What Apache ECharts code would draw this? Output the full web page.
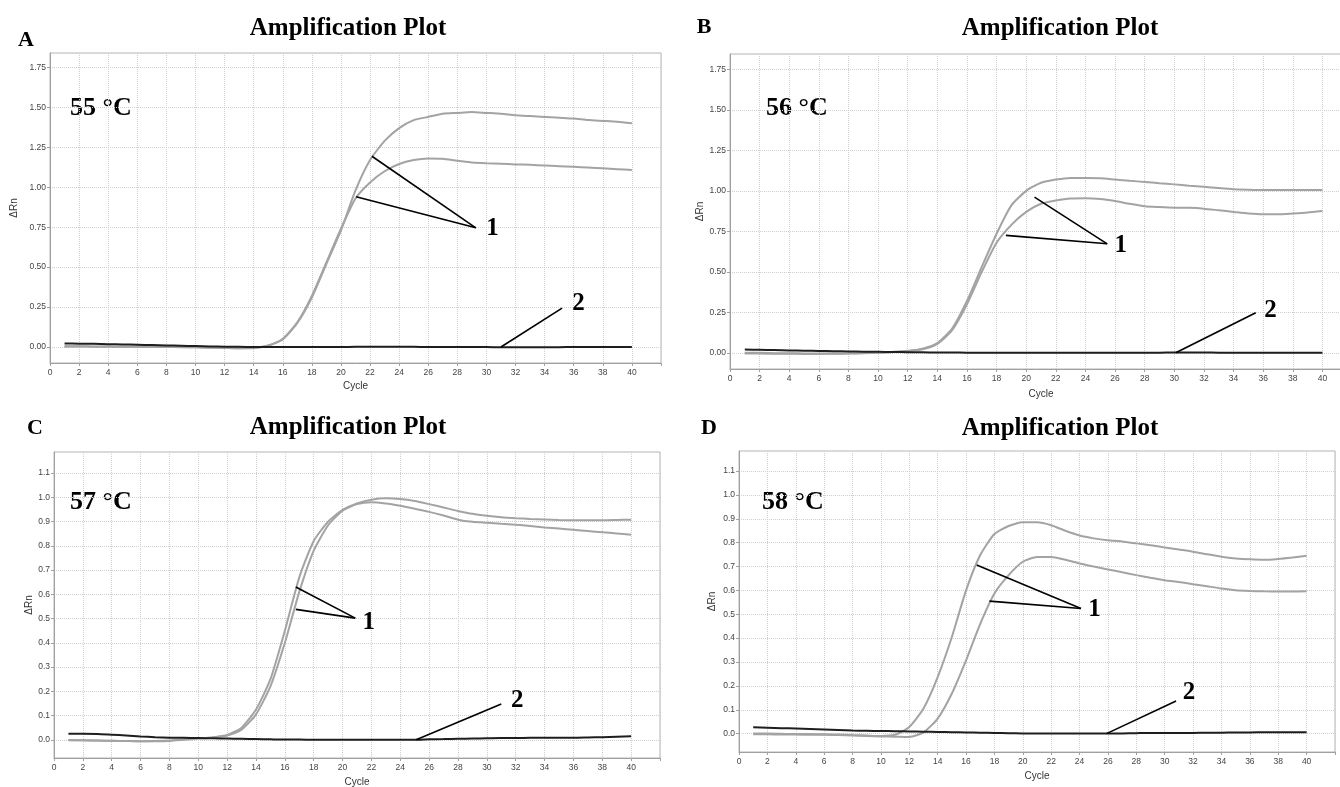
<!DOCTYPE html>
<html>
<head>
<meta charset="utf-8">
<script src="https://cdn.jsdelivr.net/npm/echarts@6/dist/echarts.min.js"></script>
<style>
  html, body { margin: 0; padding: 0; background: #fff; }
  #chart { width: 1340px; height: 787px; }
</style>
</head>
<body>
<div id="chart"></div>
<script>
// PCR cycles
const cycles = [1,2,3,4,5,6,7,8,9,10,11,12,13,14,15,16,17,18,19,20,21,22,23,24,25,26,27,28,29,30,31,32,33,34,35,36,37,38,39,40];

// 55 °C : two template reactions (gray) and the no-template control (black)
const ampA1 = [0.005,0.005,0.004,0.003,0.002,0.002,0.001,0.0,0.0,-0.002,-0.003,-0.005,-0.007,-0.005,0.008,0.048,0.15,0.31,0.52,0.73,0.98,1.17,1.29,1.37,1.42,1.44,1.46,1.465,1.47,1.465,1.46,1.45,1.445,1.44,1.435,1.43,1.42,1.415,1.41,1.40];
const ampA2 = [0.003,0.003,0.002,0.002,0.001,0.001,0.0,0.0,-0.001,-0.002,-0.004,-0.006,-0.008,-0.007,0.01,0.052,0.155,0.32,0.53,0.74,0.93,1.03,1.10,1.145,1.17,1.18,1.178,1.165,1.155,1.15,1.147,1.143,1.14,1.136,1.132,1.128,1.123,1.118,1.113,1.108];
const ntcA  = [0.022,0.021,0.02,0.018,0.016,0.014,0.012,0.01,0.008,0.006,0.004,0.002,0.001,0.0,0.0,0.0,0.0,0.0,0.0,0.0,0.001,0.001,0.001,0.001,0.001,0.0,0.0,0.0,0.0,0.0,-0.002,-0.002,-0.002,-0.001,-0.001,0.0,0.0,0.0,0.0,0.0];

// 56 °C
const ampB1 = [-0.005,-0.005,-0.006,-0.006,-0.007,-0.007,-0.006,-0.005,-0.003,0.0,0.004,0.01,0.025,0.06,0.15,0.32,0.53,0.735,0.91,1.0,1.05,1.07,1.08,1.08,1.078,1.07,1.062,1.055,1.047,1.04,1.032,1.025,1.017,1.01,1.007,1.005,1.005,1.005,1.005,1.005];
const ampB2 = [0.0,0.0,-0.002,-0.003,-0.004,-0.005,-0.004,-0.003,-0.001,0.002,0.006,0.012,0.022,0.055,0.14,0.30,0.50,0.68,0.79,0.87,0.92,0.94,0.953,0.955,0.95,0.937,0.92,0.905,0.9,0.896,0.895,0.89,0.88,0.87,0.86,0.855,0.855,0.86,0.866,0.875];
const ntcB  = [0.02,0.019,0.017,0.015,0.013,0.011,0.01,0.008,0.007,0.006,0.005,0.004,0.003,0.002,0.002,0.001,0.001,0.0,0.0,0.0,0.0,0.0,0.0,0.0,0.0,0.0,0.0,0.001,0.001,0.002,0.002,0.002,0.001,0.001,0.0,0.0,0.0,0.0,0.0,0.0];

// 57 °C
const ampC1 = [-0.002,-0.002,-0.003,-0.004,-0.005,-0.006,-0.006,-0.005,0.0,0.005,0.01,0.02,0.05,0.125,0.25,0.45,0.67,0.82,0.9,0.948,0.975,0.99,0.996,0.993,0.985,0.972,0.958,0.944,0.932,0.924,0.918,0.914,0.911,0.909,0.907,0.906,0.906,0.906,0.907,0.908];
const ampC2 = [-0.001,-0.002,-0.003,-0.004,-0.005,-0.006,-0.005,-0.003,0.002,0.006,0.01,0.018,0.042,0.105,0.22,0.40,0.61,0.78,0.885,0.945,0.972,0.98,0.975,0.965,0.953,0.94,0.925,0.908,0.899,0.895,0.891,0.887,0.882,0.876,0.871,0.866,0.861,0.856,0.851,0.846];
const ntcC  = [0.025,0.025,0.024,0.021,0.018,0.014,0.011,0.009,0.008,0.007,0.006,0.005,0.004,0.003,0.002,0.001,0.001,0.0,0.0,0.0,0.0,0.0,0.0,0.0,0.0,0.002,0.003,0.004,0.005,0.006,0.007,0.007,0.008,0.008,0.009,0.009,0.01,0.011,0.013,0.015];

// 58 °C
const ampD1 = [0.0,0.0,-0.001,-0.002,-0.002,-0.003,-0.004,-0.006,-0.008,-0.01,-0.005,0.028,0.105,0.237,0.405,0.6,0.748,0.836,0.87,0.885,0.885,0.873,0.85,0.83,0.818,0.81,0.805,0.797,0.789,0.78,0.771,0.762,0.751,0.741,0.734,0.73,0.728,0.732,0.738,0.745];
const ampD2 = [-0.003,-0.003,-0.004,-0.004,-0.005,-0.005,-0.006,-0.008,-0.01,-0.012,-0.013,-0.014,0.005,0.063,0.168,0.307,0.46,0.587,0.664,0.72,0.74,0.74,0.728,0.713,0.70,0.688,0.676,0.664,0.653,0.643,0.635,0.626,0.617,0.608,0.601,0.598,0.596,0.595,0.595,0.596];
const ntcD  = [0.027,0.025,0.023,0.021,0.019,0.017,0.015,0.013,0.012,0.011,0.01,0.009,0.008,0.007,0.006,0.005,0.004,0.003,0.002,0.001,0.0,0.0,0.0,0.0,0.0,0.0,0.001,0.002,0.003,0.003,0.003,0.003,0.004,0.004,0.005,0.005,0.006,0.006,0.006,0.006];

// Tick values
const yTicksHigh = [0, 0.25, 0.5, 0.75, 1.0, 1.25, 1.5, 1.75];
const yTicksLow  = [0, 0.1, 0.2, 0.3, 0.4, 0.5, 0.6, 0.7, 0.8, 0.9, 1.0, 1.1];

// Panel texts
const panelLetters = ['A', 'B', 'C', 'D'];
const panelTemps = ['55 °C', '56 °C', '57 °C', '58 °C'];
const plotTitle = 'Amplification Plot';

// Pointer annotations: [start point, end point] in (cycle, ΔRn)
const pointersA = { one: [[[22.13, 1.194], [29.27, 0.746]], [[21.04, 0.94], [29.27, 0.746]]], two: [[31.0, 0.0], [35.2, 0.243]], oneAt: [30.42, 0.742], twoAt: [36.33, 0.273] };
const pointersB = { one: [[[20.56, 0.961], [25.47, 0.673]], [[18.63, 0.725], [25.47, 0.673]]], two: [[30.1, 0.0], [35.5, 0.247]], oneAt: [26.39, 0.661], twoAt: [36.5, 0.261] };
const pointersC = { one: [[[16.76, 0.63], [20.88, 0.502]], [[16.76, 0.538], [20.88, 0.502]]], two: [[25.1, 0.0], [31.0, 0.148]], oneAt: [21.82, 0.484], twoAt: [32.1, 0.162] };
const pointersD = { one: [[[16.75, 0.706], [24.1, 0.524]], [[17.65, 0.555], [24.1, 0.524]]], two: [[25.9, 0.0], [30.8, 0.137]], oneAt: [25.06, 0.52], twoAt: [31.71, 0.174] };

const panels = [
  { amp: [ampA1, ampA2], ntc: ntcA, ticks: yTicksHigh, dec: 2, min: -0.1, max: 1.84, ptr: pointersA,
    grid: { left: 50, top: 53, width: 611, height: 310 }, nameGap: 31, xNameGap: 18 },
  { amp: [ampB1, ampB2], ntc: ntcB, ticks: yTicksHigh, dec: 2, min: -0.1, max: 1.845, ptr: pointersB,
    grid: { left: 730, top: 54, width: 622, height: 315 }, nameGap: 24, xNameGap: 20 },
  { amp: [ampC1, ampC2], ntc: ntcC, ticks: yTicksLow, dec: 1, min: -0.075, max: 1.187, ptr: pointersC,
    grid: { left: 54, top: 452, width: 606, height: 306 }, nameGap: 18, xNameGap: 19 },
  { amp: [ampD1, ampD2], ntc: ntcD, ticks: yTicksLow, dec: 1, min: -0.077, max: 1.184, ptr: pointersD,
    grid: { left: 739, top: 451, width: 596, height: 301 }, nameGap: 22, xNameGap: 19 }
];

const serif = '"Liberation Serif", "DejaVu Serif", serif';
const sans = '"Liberation Sans", Arial, sans-serif';

const grids = [], xAxes = [], yAxes = [], series = [];

panels.forEach((p, i) => {
  grids.push(Object.assign({ show: true, borderColor: '#b4b4b4', borderWidth: 1, backgroundColor: '#fff',
    outerBoundsMode: 'none', containLabel: false }, p.grid));

  xAxes.push({
    gridIndex: i, type: 'value', min: 0, max: 42, interval: 2,
    name: 'Cycle', nameLocation: 'middle', nameGap: p.xNameGap,
    nameTextStyle: { fontFamily: sans, fontSize: 10, color: '#333' },
    axisLine: { show: true, onZero: false, lineStyle: { color: '#a0a0a0' } },
    axisTick: { show: true, length: 3, lineStyle: { color: '#a0a0a0' } },
    axisLabel: { fontFamily: sans, fontSize: 8.5, color: '#444', margin: 5,
      formatter: v => (v > 40 ? '' : String(v)) },
    splitLine: { show: true, lineStyle: { color: '#cfcfcf', type: 'dotted', width: 1 } }
  });

  yAxes.push({
    gridIndex: i, type: 'value', min: p.min, max: p.max,
    name: 'ΔRn', nameLocation: 'middle', nameGap: p.nameGap,
    nameTextStyle: { fontFamily: sans, fontSize: 10, color: '#333' },
    axisLine: { show: true, lineStyle: { color: '#a0a0a0' } },
    axisTick: { show: true, length: 3, customValues: p.ticks, lineStyle: { color: '#a0a0a0' } },
    axisLabel: { fontFamily: sans, fontSize: 8.5, color: '#444', margin: 4, customValues: p.ticks,
      formatter: v => v.toFixed(p.dec) },
    splitLine: { show: true, lineStyle: { color: '#cfcfcf', type: 'dotted', width: 1 } }
  });

  const numLabel = (txt, at) => ({
    coord: at, symbol: 'rect', symbolSize: 1, itemStyle: { color: 'rgba(0,0,0,0)' },
    label: { show: true, position: 'inside', formatter: txt,
      fontFamily: serif, fontWeight: 'bold', fontSize: 25, color: '#000' }
  });
  const segment = pts => [{ coord: pts[0] }, { coord: pts[1] }];

  p.amp.forEach((vals, k) => {
    series.push({
      type: 'line', xAxisIndex: i, yAxisIndex: i, showSymbol: false, smooth: 0.2,
      data: cycles.map((c, j) => [c, vals[j]]),
      lineStyle: { color: '#a3a3a3', width: 2 }, silent: true,
      markLine: k === 0 ? {
        silent: true, symbol: 'none', label: { show: false },
        lineStyle: { color: '#000', width: 1.6, type: 'solid' },
        data: p.ptr.one.map(segment)
      } : undefined,
      markPoint: k === 0 ? { silent: true, data: [numLabel('1', p.ptr.oneAt)] } : undefined
    });
  });

  series.push({
    type: 'line', xAxisIndex: i, yAxisIndex: i, showSymbol: false, smooth: 0.2,
    data: cycles.map((c, j) => [c, p.ntc[j]]),
    lineStyle: { color: '#1e1e1e', width: 2 }, silent: true,
    markLine: {
      silent: true, symbol: 'none', label: { show: false },
      lineStyle: { color: '#000', width: 1.6, type: 'solid' },
      data: [segment(p.ptr.two)]
    },
    markPoint: { silent: true, data: [numLabel('2', p.ptr.twoAt)] }
  });
});

// Headings, panel letters and annealing temperatures
const textEl = (txt, x, y, size, align) => ({
  type: 'text', x: x, y: y, silent: true,
  style: { text: txt, font: 'bold ' + size + 'px ' + serif, fill: '#000',
    align: align || 'center', verticalAlign: 'middle' }
});
const titlePos = [[348, 29], [1060, 29], [348, 428], [1060, 429]];
const letterPos = [[26, 40], [704, 27], [35, 428], [709, 428]];
const tempPos = [[70, 108], [766, 108], [70, 502], [762, 502]];
const graphics = [];
for (let i = 0; i < 4; i++) {
  graphics.push(textEl(plotTitle, titlePos[i][0], titlePos[i][1], 25));
  graphics.push(textEl(panelLetters[i], letterPos[i][0], letterPos[i][1], 22));
  graphics.push(textEl(panelTemps[i], tempPos[i][0], tempPos[i][1], 26, 'left'));
}

const chart = echarts.init(document.getElementById('chart'), null, { renderer: 'canvas' });
chart.setOption({
  animation: false,
  backgroundColor: '#fff',
  grid: grids,
  xAxis: xAxes,
  yAxis: yAxes,
  series: series,
  graphic: graphics
});
</script>
</body>
</html>
